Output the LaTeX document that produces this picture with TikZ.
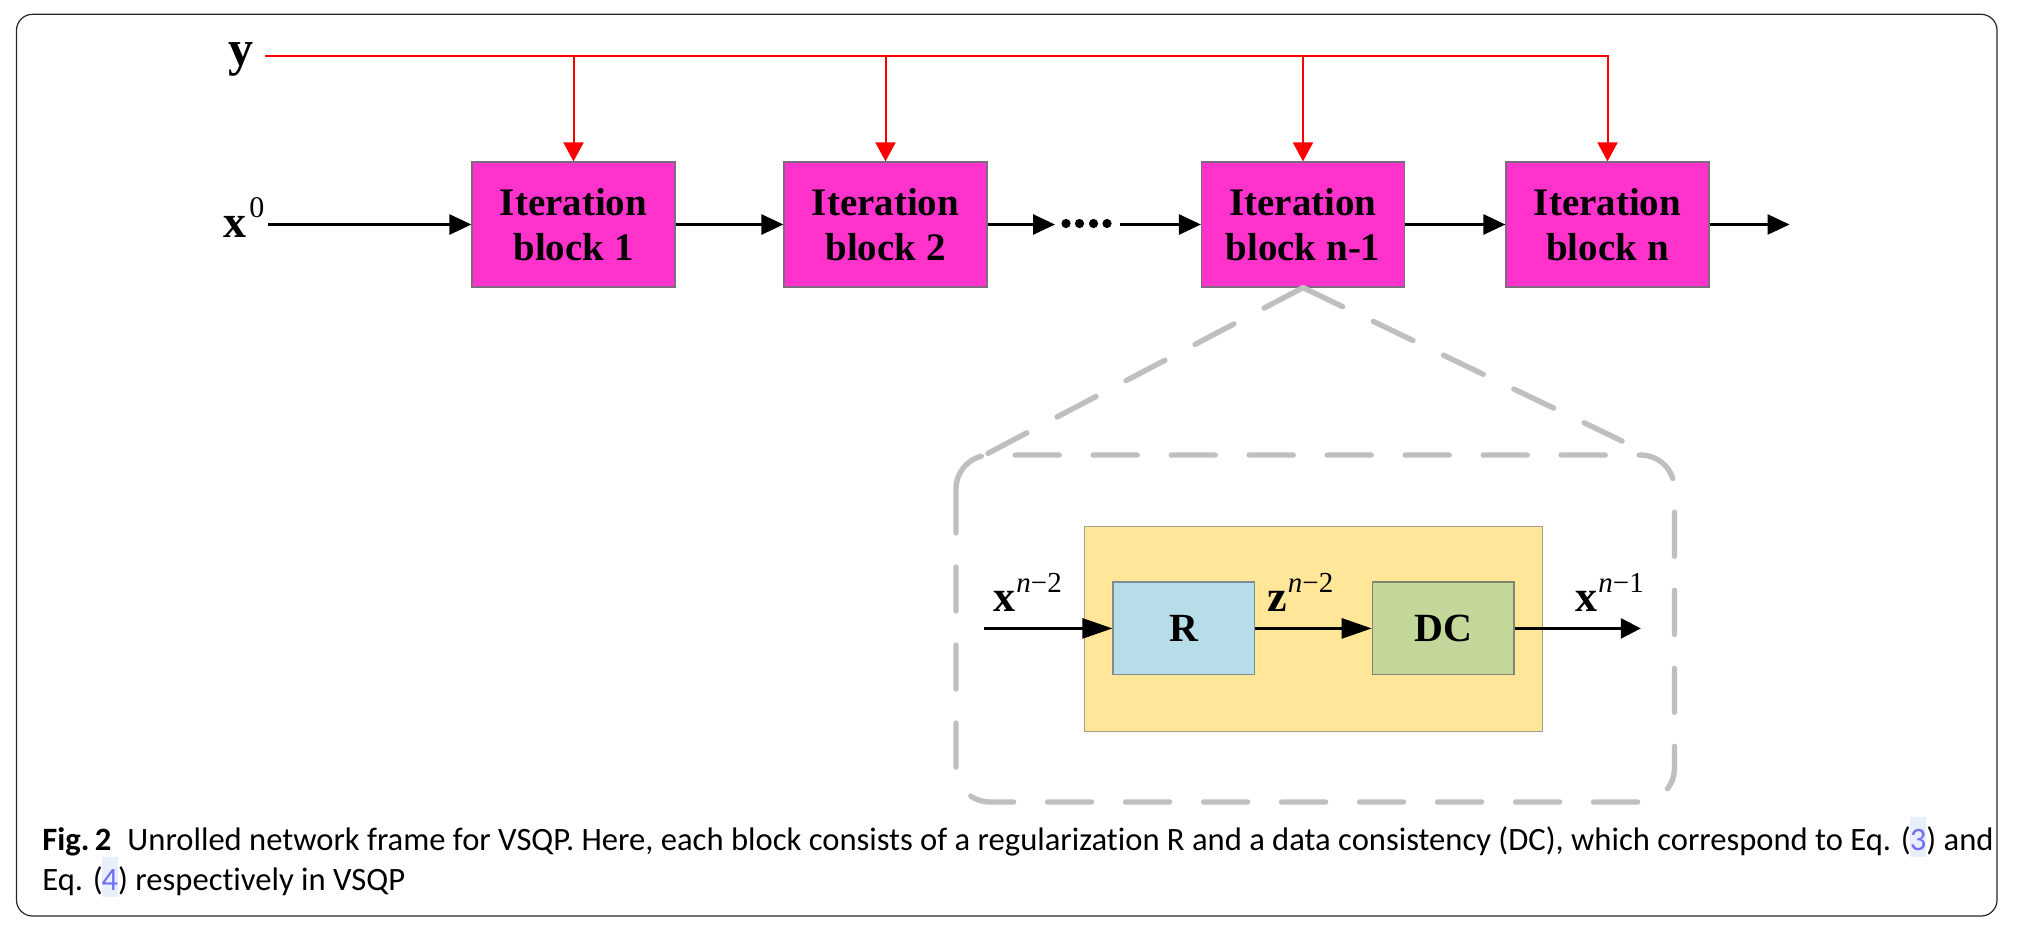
\documentclass[tikz,border=0pt]{standalone}
\usepackage{fontspec}
\setmainfont{Liberation Serif}
\newfontfamily\capfont[Ligatures=NoCommon]{Carlito}
\usetikzlibrary{arrows.meta}
\definecolor{blockmag}{HTML}{FF33CC}
\definecolor{blockedge}{HTML}{7F6A7F}
\definecolor{yelfill}{HTML}{FFE699}
\definecolor{yeledge}{HTML}{A6A08A}
\definecolor{rfill}{HTML}{B7DDE8}
\definecolor{redge}{HTML}{7F8C95}
\definecolor{dcfill}{HTML}{C4D79B}
\definecolor{dcedge}{HTML}{80866F}
\definecolor{dashgray}{HTML}{BFBFBF}
\definecolor{redline}{HTML}{FF0000}
\definecolor{linkblue}{HTML}{6F6FF5}
\definecolor{hlbg}{HTML}{E8EEFB}
\newcommand\suplab[5]{{\fontsize{#1}{#1}\selectfont\bfseries #2}\raisebox{#3}{\fontsize{#4}{#4}\selectfont #5}}
\newcommand\hlnum[1]{{\setlength\fboxsep{0pt}\kern-0.6pt\colorbox{hlbg}{\rule[-3.5pt]{0pt}{20pt}\textcolor{linkblue}{#1}}}}
\tikzset{
  iterblock/.style={draw=blockedge, line width=0.6pt, fill=blockmag, minimum width=101.5pt, minimum height=62.5pt, inner sep=0pt, align=center, font=\fontsize{19.5pt}{22.8pt}\selectfont\bfseries},
  arr/.style={line width=1.4pt, -{Triangle[length=11pt,width=10pt]}},
  iarr/.style={line width=1.35pt, -{Triangle[length=15pt,width=10pt]}},
  oarr/.style={line width=1.35pt, -{Triangle[length=10pt,width=10pt]}},
  redarr/.style={draw=redline, line width=1pt, -{Triangle[length=9.5pt,width=10pt,fill=redline]}},
  dashg/.style={draw=dashgray, line width=2.7pt, line cap=round, dash pattern=on 22pt off 17pt},
  lab/.style={anchor=base west, inner sep=0pt},
  caption/.style={anchor=base west, inner sep=0pt, font=\capfont\fontsize{16.3pt}{20pt}\selectfont},
  framebox/.style={draw=black!85, line width=0.6pt, rounded corners=8pt},
}
\begin{document}
\begin{tikzpicture}[x=0.5pt,y=-0.5pt]
\useasboundingbox (0,0) rectangle (2022,934);
\draw[framebox] (16.5,14.3) rectangle (1997,916);

% iteration blocks
\node[iterblock] (b1)  at (573.5,224.5)  {Iteration\\block 1};
\node[iterblock] (b2)  at (885.5,224.5)  {Iteration\\block 2};
\node[iterblock] (bn1) at (1303,224.5)   {Iteration\\block n-1};
\node[iterblock] (bn)  at (1607.5,224.5) {Iteration\\block n};

% labels
\node[lab] (ylab) at (228,65) {\fontsize{25pt}{25pt}\selectfont\bfseries y};
\node[lab] (x0lab) at (223,237) {\suplab{23pt}{x}{10pt}{15pt}{\kern1.5pt 0}};

% red y lines
\coordinate (ys) at (265,56);
\draw[redarr] (ys) -| (bn.north);
\draw[redarr] (ys -| b1.north) -- (b1.north);
\draw[redarr] (ys -| b2.north) -- (b2.north);
\draw[redarr] (ys -| bn1.north) -- (bn1.north);

% main black chain
\coordinate (x0s) at (268,224.5);
\coordinate (dotsL) at (1055,224.5);
\coordinate (dotsR) at (1120,224.5);
\coordinate (outc) at (1789.5,224.5);
\draw[arr] (x0s) -- (b1.west);
\draw[arr] (b1.east) -- (b2.west);
\draw[arr] (b2.east) -- (dotsL);
\foreach \dx in {1066,1079.5,1093.5,1107}{\fill (\dx,223.5) circle[radius=2.3pt];}
\draw[arr] (dotsR) -- (bn1.west);
\draw[arr] (bn1.east) -- (bn.west);
\draw[arr] (bn.east) -- (outc);

% zoom lines and dashed rounded box
\coordinate (tl) at (979,458);
\coordinate (tr) at (1622,441);
\draw[dashg] (bn1.south) -- (tl);
\draw[dashg] (bn1.south) -- (tr);
\draw[dashg, rounded corners=17pt] (956,455) rectangle (1674.5,802);

% inner detail
\node[draw=yeledge, line width=0.6pt, fill=yelfill, minimum width=229pt, minimum height=102.5pt, inner sep=0pt] (ybox) at (1313.8,628.65) {};
\node[draw=redge, line width=0.6pt, fill=rfill, minimum width=70.8pt, minimum height=46.4pt, inner sep=0pt, font=\fontsize{20pt}{20pt}\selectfont\bfseries] (R) at (1183.8,628.4) {R};
\node[draw=dcedge, line width=0.6pt, fill=dcfill, minimum width=70.8pt, minimum height=46.4pt, inner sep=0pt, font=\fontsize{20pt}{20pt}\selectfont\bfseries] (DC) at (1443.1,628.4) {DC};
\coordinate (ins) at (984,628.4);
\coordinate (outi) at (1640.8,628.4);
\draw[iarr] (ins) -- (R.west);
\draw[iarr] (R.east) -- (DC.west);
\draw[oarr] (DC.east) -- (outi);
\node[lab] (xn2) at (993,611.6) {\suplab{22pt}{x}{9.8pt}{14.5pt}{\kern0.5pt\itshape n\upshape −2}};
\node[lab] (zn2) at (1267,611.6) {\suplab{22pt}{z}{9.8pt}{14.5pt}{\kern0.5pt\itshape n\upshape −2}};
\node[lab] (xn1) at (1575,611.6) {\suplab{22pt}{x}{9.8pt}{14.5pt}{\kern0.5pt\itshape n\upshape −1}};

% caption
\node[caption] (capA) at (42,850) {{\bfseries Fig.\,2}\hspace{8pt}Unrolled network frame for VSQP. Here, each block consists of a regularization R and a data consistency (DC), which correspond to Eq. (\hlnum{3}) and};
\node[caption] (capB) at (42,890) {Eq. (\hlnum{4}) respectively in VSQP};
\end{tikzpicture}
\end{document}
